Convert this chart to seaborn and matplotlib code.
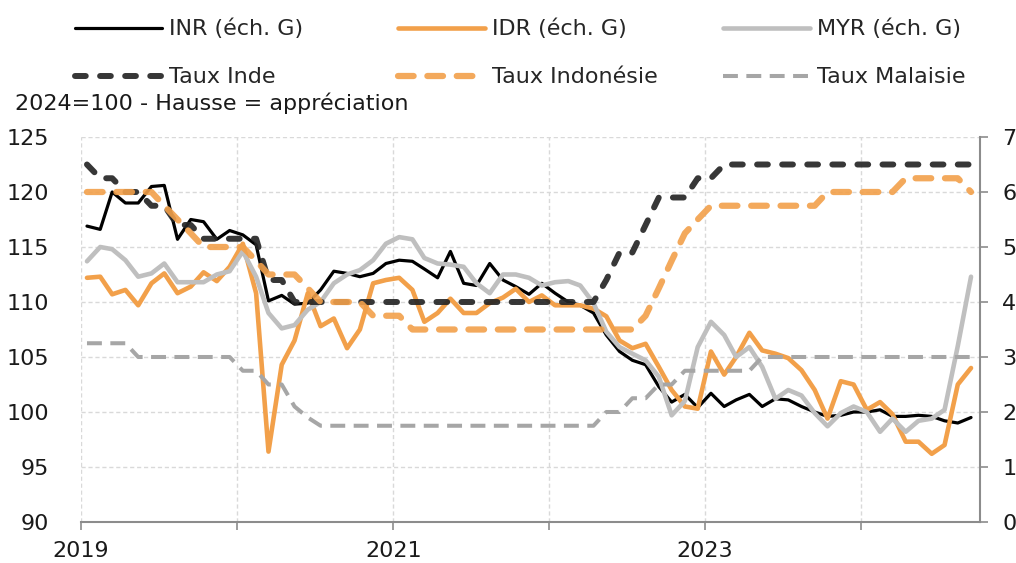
import matplotlib
matplotlib.use("Agg")
import matplotlib.pyplot as plt
import matplotlib.dates as mdates
import matplotlib.ticker as mticker
import numpy as np
import pandas as pd
import seaborn as sns

# Monthly points, Jan 2019 - Sep 2024 (mid-month)
dates = pd.date_range("2019-01-01", periods=69, freq="MS") + pd.Timedelta(days=14)

# Exchange rates, 2024=100 (left axis)
inr = [116.9, 116.6, 120.0, 119.0, 119.0, 120.5, 120.6, 115.7, 117.5, 117.3,
       115.7, 116.5, 116.1, 115.2, 110.1, 110.6, 109.8, 109.9, 111.1, 112.8,
       112.6, 112.3, 112.6, 113.5, 113.8, 113.7, 113.0, 112.2, 114.6, 111.7,
       111.5, 113.5, 112.0, 111.4, 110.7, 111.7, 110.8, 110.0, 109.7, 109.0,
       107.0, 105.5, 104.7, 104.3, 102.3, 100.9, 101.6, 100.4, 101.7, 100.5,
       101.1, 101.6, 100.5, 101.2, 101.1, 100.5, 100.0, 99.6, 99.7, 100.0,
       100.0, 100.2, 99.6, 99.6, 99.7, 99.6, 99.2, 99.0, 99.5]
idr = [112.2, 112.3, 110.7, 111.1, 109.7, 111.7, 112.6, 110.8, 111.4, 112.7,
       111.9, 113.2, 115.3, 110.8, 96.4, 104.3, 106.5, 110.8, 107.8, 108.5,
       105.8, 107.5, 111.7, 112.0, 112.2, 111.1, 108.2, 109.0, 110.3, 109.0,
       109.0, 109.9, 110.4, 111.2, 110.0, 110.6, 109.7, 109.7, 109.7, 109.4,
       108.7, 106.5, 105.8, 106.2, 104.1, 102.0, 100.5, 100.3, 105.5, 103.4,
       105.0, 107.2, 105.6, 105.3, 104.9, 103.8, 102.0, 99.4, 102.8, 102.5,
       100.2, 100.9, 99.8, 97.3, 97.3, 96.2, 97.0, 102.5, 104.0]
myr = [113.7, 115.0, 114.8, 113.8, 112.3, 112.6, 113.5, 111.8, 111.8, 111.8,
       112.5, 112.8, 114.6, 112.3, 109.0, 107.6, 107.9, 109.3, 110.0, 111.7,
       112.5, 112.9, 113.8, 115.3, 115.9, 115.7, 114.0, 113.5, 113.4, 113.2,
       111.7, 110.8, 112.5, 112.5, 112.2, 111.5, 111.8, 111.9, 111.5, 109.9,
       107.3, 105.9, 105.3, 104.7, 103.2, 99.7, 101.0, 105.9, 108.2, 107.0,
       105.0, 105.9, 104.1, 101.2, 102.0, 101.5, 99.9, 98.7, 99.9, 100.5,
       100.0, 98.2, 99.4, 98.2, 99.2, 99.4, 100.2, 106.0, 112.3]

# Policy rates, % (right axis)
taux_inde = [6.5, 6.25, 6.25, 6.0, 6.0, 5.75, 5.75, 5.4, 5.4] + [5.15] * 5 \
    + [4.4, 4.4] + [4.0] * 24 + [4.4, 4.9, 4.9, 5.4, 5.9, 5.9, 5.9, 6.25, 6.25] \
    + [6.5] * 20
taux_indonesie = [6.0] * 6 + [5.75, 5.5, 5.25] + [5.0] * 4 + [4.75, 4.5, 4.5, 4.5, 4.25] \
    + [4.0] * 4 + [3.75] * 3 + [3.5] * 18 + [3.75, 4.25, 4.75, 5.25, 5.5] \
    + [5.75] * 9 + [6.0] * 6 + [6.25] * 5 + [6.0]
taux_malaisie = [3.25] * 4 + [3.0] * 8 + [2.75, 2.75, 2.5, 2.5, 2.1, 1.9] + [1.75] * 22 \
    + [2.0, 2.0, 2.25, 2.25, 2.5, 2.5] + [2.75] * 6 + [3.0] * 17

df = pd.DataFrame({
    "date": dates,
    "INR": inr, "IDR": idr, "MYR": myr,
    "Inde": taux_inde, "Indonesie": taux_indonesie, "Malaisie": taux_malaisie,
})

ORANGE = "#F2A04A"
GRID = "#D9D9D9"
AXIS = "#8C8C8C"
TXT = "#1a1a1a"

sns.set_theme(style="white")
plt.rcParams["font.family"] = ["DejaVu Sans"]
FS = 16

fig = plt.figure(figsize=(10.16, 5.63), dpi=100)
ax = fig.add_axes([81 / 1016, 41 / 563, 899 / 1016, 385 / 563])
ax2 = ax.twinx()

# Left axis: currencies
sns.lineplot(data=df, x="date", y="INR", ax=ax, color="black", lw=2.3, legend=False)
sns.lineplot(data=df, x="date", y="IDR", ax=ax, color=ORANGE, lw=3.3, legend=False)
sns.lineplot(data=df, x="date", y="MYR", ax=ax, color="#BFBFBF", lw=3.3, legend=False)
h_inr, h_idr, h_myr = ax.lines[-3:]

# Right axis: policy rates
sns.lineplot(data=df, x="date", y="Inde", ax=ax2, color="#262626", alpha=0.92, lw=4.3,
             linestyle=(0, (1.8, 2.4)), dash_capstyle="round", legend=False)
sns.lineplot(data=df, x="date", y="Indonesie", ax=ax2, color=ORANGE, alpha=0.9, lw=4.5,
             linestyle=(0, (2.5, 2.2)), dash_capstyle="round", legend=False)
sns.lineplot(data=df, x="date", y="Malaisie", ax=ax2, color="#A6A6A6", lw=2.9,
             linestyle=(0, (3.7, 2.1)), legend=False)
h_in, h_id, h_my = ax2.lines[-3:]

ax.set_xlim(pd.Timestamp("2019-01-01"), pd.Timestamp("2024-10-06"))
ax.set_ylim(90, 125)
ax2.set_ylim(0, 7)

# Grid
ax.set_axisbelow(True)
ax.grid(True, color=GRID, linestyle=(0, (3, 2)), linewidth=1.0)

# X axis: yearly ticks, labels on odd years
ax.xaxis.set_major_locator(mdates.YearLocator())
ax.xaxis.set_major_formatter(mticker.FuncFormatter(
    lambda v, p: str(mdates.num2date(v).year) if mdates.num2date(v).year % 2 == 1 else ""))
ax.tick_params(axis="x", bottom=True, length=6, width=1.2, color=AXIS, pad=8,
               labelsize=FS, labelcolor=TXT)
ax.yaxis.set_major_locator(mticker.MultipleLocator(5))
ax.tick_params(axis="y", left=False, length=0, pad=23, labelsize=FS, labelcolor=TXT)
ax2.yaxis.set_major_locator(mticker.MultipleLocator(1))
ax2.tick_params(axis="y", right=True, length=6, width=1.2, color=AXIS, pad=10,
                labelsize=FS, labelcolor=TXT)

for a in (ax, ax2):
    a.set_xlabel("")
    a.set_ylabel("")
    a.spines["top"].set_visible(False)
    a.spines["left"].set_visible(False)
ax.spines["right"].set_visible(False)
ax.spines["bottom"].set_color(AXIS)
ax.spines["bottom"].set_linewidth(1.5)
ax2.spines["bottom"].set_visible(False)
ax2.spines["right"].set_color(AXIS)
ax2.spines["right"].set_linewidth(1.5)

# Legend: three columns of two rows each
cols = [
    (75, [h_inr, h_in], ["INR (éch. G)", "Taux Inde"]),
    (398, [h_idr, h_id], ["IDR (éch. G)", "Taux Indonésie"]),
    (723, [h_myr, h_my], ["MYR (éch. G)", "Taux Malaisie"]),
]
for x0, hs, labs in cols:
    fig.legend(hs, labs, loc="upper left", bbox_to_anchor=(x0 / 1016, 1 - 19 / 563),
               frameon=False, fontsize=FS, handlelength=3.9, handletextpad=0.35,
               labelspacing=1.25, borderpad=0, borderaxespad=0)

fig.text(15 / 1016, 1 - 103 / 563, "2024=100 - Hausse = appréciation",
         ha="left", va="center", fontsize=FS, color=TXT)

fig.savefig("out.png", dpi=100)
